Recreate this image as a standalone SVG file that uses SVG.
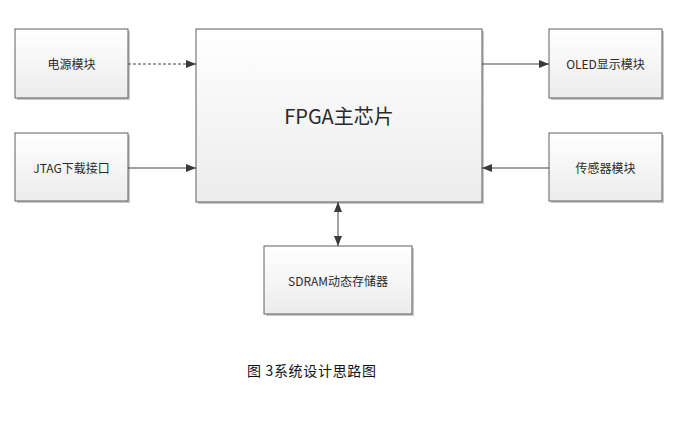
<svg xmlns="http://www.w3.org/2000/svg" width="677" height="424" viewBox="0 0 677 424">
<style>
.box{fill:url(#g);stroke:#5f5f5f;stroke-width:1}
.sh{fill:#c8c8c8}
.lbl{font-family:"Noto Sans CJK SC","Noto Sans",sans-serif;font-size:12px;fill:#2a2a2a;text-anchor:middle;dominant-baseline:central}
.big{font-size:20px}
.ln{stroke:#444;stroke-width:1;fill:none}
.cap{font-family:"Noto Sans CJK SC",sans-serif;font-size:14px;fill:#111}
</style>
<defs>
<linearGradient id="g" x1="0" y1="0" x2="0" y2="1">
<stop offset="0" stop-color="#ffffff"/>
<stop offset="1" stop-color="#ececec"/>
</linearGradient>
<marker id="ah" viewBox="0 0 10 8" refX="10" refY="4" markerWidth="10" markerHeight="8" markerUnits="userSpaceOnUse" orient="auto-start-reverse">
<path d="M0,0 L10,4 L0,8 Z" fill="#3a3a3a"/>
</marker>
</defs>
<rect width="677" height="424" fill="#fff"/>
<g id="power">
<rect class="sh" x="17" y="31" width="113" height="69"/>
<rect class="box" x="15" y="29" width="113" height="69"/>
<text class="lbl" x="71.5" y="63.5">电源模块</text>
</g>
<g id="jtag">
<rect class="sh" x="17" y="135" width="113" height="68"/>
<rect class="box" x="15" y="133" width="113" height="68"/>
<text class="lbl" x="71.5" y="167">JTAG下载接口</text>
</g>
<g id="fpga">
<rect class="sh" x="198" y="31" width="286" height="173"/>
<rect class="box" x="196" y="29" width="286" height="173"/>
<text class="lbl big" x="339" y="115">FPGA主芯片</text>
</g>
<g id="oled">
<rect class="sh" x="551" y="31" width="113" height="69"/>
<rect class="box" x="549" y="29" width="113" height="69"/>
<text class="lbl" x="605.5" y="63.5">OLED显示模块</text>
</g>
<g id="sensor">
<rect class="sh" x="551" y="135" width="113" height="68"/>
<rect class="box" x="549" y="133" width="113" height="68"/>
<text class="lbl" x="605.5" y="167">传感器模块</text>
</g>
<g id="sdram">
<rect class="sh" x="266" y="248" width="148" height="68"/>
<rect class="box" x="264" y="246" width="148" height="68"/>
<text class="lbl" x="338" y="280">SDRAM动态存储器</text>
</g>
<g id="connectors">
<line class="ln" x1="128" y1="64" x2="196" y2="64" stroke-dasharray="3,2" marker-end="url(#ah)"/>
<line class="ln" x1="128" y1="168" x2="196" y2="168" marker-end="url(#ah)"/>
<line class="ln" x1="482" y1="64" x2="549" y2="64" marker-end="url(#ah)"/>
<line class="ln" x1="549" y1="168" x2="482" y2="168" marker-end="url(#ah)"/>
<line class="ln" x1="338" y1="202" x2="338" y2="246" marker-start="url(#ah)" marker-end="url(#ah)"/>
</g>
<text class="cap" x="247" y="376" textLength="129" lengthAdjust="spacing">图 3系统设计思路图</text>
</svg>
